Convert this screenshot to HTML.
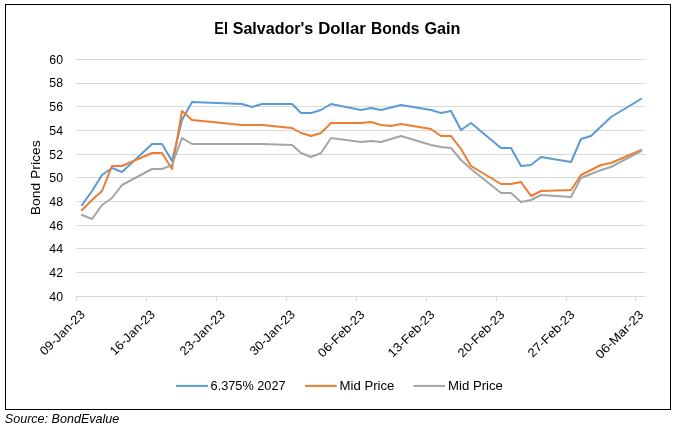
<!DOCTYPE html>
<html lang="en"><head><meta charset="utf-8"><title>El Salvador's Dollar Bonds Gain</title>
<style>html,body{margin:0;padding:0;background:#fff}body{width:676px;height:430px;overflow:hidden}svg{display:block}text{font-family:"Liberation Sans",sans-serif;fill:#000}</style></head><body>
<svg width="676" height="430" viewBox="0 0 676 430">
<rect x="0" y="0" width="676" height="430" fill="#fff"/>
<rect x="5.5" y="4.5" width="665" height="405" fill="#fff" stroke="#000" stroke-width="1"/>
<line x1="76.4" x2="645.5" y1="59.5" y2="59.5" stroke="#d9d9d9" stroke-width="1"/>
<line x1="76.4" x2="645.5" y1="83.5" y2="83.5" stroke="#d9d9d9" stroke-width="1"/>
<line x1="76.4" x2="645.5" y1="106.5" y2="106.5" stroke="#d9d9d9" stroke-width="1"/>
<line x1="76.4" x2="645.5" y1="130.5" y2="130.5" stroke="#d9d9d9" stroke-width="1"/>
<line x1="76.4" x2="645.5" y1="154.5" y2="154.5" stroke="#d9d9d9" stroke-width="1"/>
<line x1="76.4" x2="645.5" y1="177.5" y2="177.5" stroke="#d9d9d9" stroke-width="1"/>
<line x1="76.4" x2="645.5" y1="201.5" y2="201.5" stroke="#d9d9d9" stroke-width="1"/>
<line x1="76.4" x2="645.5" y1="225.5" y2="225.5" stroke="#d9d9d9" stroke-width="1"/>
<line x1="76.4" x2="645.5" y1="248.5" y2="248.5" stroke="#d9d9d9" stroke-width="1"/>
<line x1="76.4" x2="645.5" y1="272.5" y2="272.5" stroke="#d9d9d9" stroke-width="1"/>
<line x1="76.4" x2="645.5" y1="296.5" y2="296.5" stroke="#d9d9d9" stroke-width="1"/>
<line x1="76.5" x2="76.5" y1="296.0" y2="301.0" stroke="#d9d9d9" stroke-width="1"/>
<line x1="146.5" x2="146.5" y1="296.0" y2="301.0" stroke="#d9d9d9" stroke-width="1"/>
<line x1="216.5" x2="216.5" y1="296.0" y2="301.0" stroke="#d9d9d9" stroke-width="1"/>
<line x1="286.5" x2="286.5" y1="296.0" y2="301.0" stroke="#d9d9d9" stroke-width="1"/>
<line x1="356.5" x2="356.5" y1="296.0" y2="301.0" stroke="#d9d9d9" stroke-width="1"/>
<line x1="426.5" x2="426.5" y1="296.0" y2="301.0" stroke="#d9d9d9" stroke-width="1"/>
<line x1="496.5" x2="496.5" y1="296.0" y2="301.0" stroke="#d9d9d9" stroke-width="1"/>
<line x1="566.5" x2="566.5" y1="296.0" y2="301.0" stroke="#d9d9d9" stroke-width="1"/>
<line x1="635.5" x2="635.5" y1="296.0" y2="301.0" stroke="#d9d9d9" stroke-width="1"/>
<text x="63.0" y="63.7" font-size="12.4" text-anchor="end" textLength="13.7" lengthAdjust="spacingAndGlyphs">60</text>
<text x="63.0" y="87.4" font-size="12.4" text-anchor="end" textLength="13.7" lengthAdjust="spacingAndGlyphs">58</text>
<text x="63.0" y="111.1" font-size="12.4" text-anchor="end" textLength="13.7" lengthAdjust="spacingAndGlyphs">56</text>
<text x="63.0" y="134.8" font-size="12.4" text-anchor="end" textLength="13.7" lengthAdjust="spacingAndGlyphs">54</text>
<text x="63.0" y="158.5" font-size="12.4" text-anchor="end" textLength="13.7" lengthAdjust="spacingAndGlyphs">52</text>
<text x="63.0" y="182.2" font-size="12.4" text-anchor="end" textLength="13.7" lengthAdjust="spacingAndGlyphs">50</text>
<text x="63.0" y="205.9" font-size="12.4" text-anchor="end" textLength="13.7" lengthAdjust="spacingAndGlyphs">48</text>
<text x="63.0" y="229.6" font-size="12.4" text-anchor="end" textLength="13.7" lengthAdjust="spacingAndGlyphs">46</text>
<text x="63.0" y="253.3" font-size="12.4" text-anchor="end" textLength="13.7" lengthAdjust="spacingAndGlyphs">44</text>
<text x="63.0" y="277.0" font-size="12.4" text-anchor="end" textLength="13.7" lengthAdjust="spacingAndGlyphs">42</text>
<text x="63.0" y="300.7" font-size="12.4" text-anchor="end" textLength="13.7" lengthAdjust="spacingAndGlyphs">40</text>
<polyline points="82,205 92,191 102,175 112,168 122,172 152,144 162,144 172,161 182,120 192,102 242,104 252,107 262,104 292,104 301,113 311,113 321,110 331,104 361,110 371,108 381,110 401,105 431,110 441,113 451,111 461,130 471,123 501,148 511,148 521,166 531,165 541,157 571,162 581,139 591,136 611,117 641,99" fill="none" stroke="#5b9bd5" stroke-width="2" stroke-linejoin="round" stroke-linecap="square"/>
<polyline points="82,210 92,200 102,191 112,166 122,166 152,153 162,153 172,169 182,111 192,120 242,125 252,125 262,125 292,128 301,133 311,136 321,133 331,123 361,123 371,122 381,125 391,126 401,124 431,129 441,136 451,136 461,149 471,166 501,184 511,184 521,182 531,196 541,191 571,190 581,175 601,165 611,163 641,150" fill="none" stroke="#ed7d31" stroke-width="2" stroke-linejoin="round" stroke-linecap="square"/>
<polyline points="82,215 92,219 102,205 112,198 122,185 152,169 162,169 172,165 182,138 192,144 262,144 292,145 301,153 311,157 321,153 331,138 361,142 371,141 381,142 401,136 431,145 441,147 451,148 461,160 471,169 501,193 511,193 521,202 531,200 541,195 571,197 581,178 601,170 611,167 641,151" fill="none" stroke="#a5a5a5" stroke-width="2" stroke-linejoin="round" stroke-linecap="square"/>
<text x="214.34" y="34.0" font-size="15.9" font-weight="bold" textLength="13.57" lengthAdjust="spacingAndGlyphs">El</text>
<text x="232.74" y="34.0" font-size="15.9" font-weight="bold" textLength="80.52" lengthAdjust="spacingAndGlyphs">Salvador&#39;s</text>
<text x="318.22" y="34.0" font-size="15.9" font-weight="bold" textLength="47.54" lengthAdjust="spacingAndGlyphs">Dollar</text>
<text x="370.96" y="34.0" font-size="15.9" font-weight="bold" textLength="48.56" lengthAdjust="spacingAndGlyphs">Bonds</text>
<text x="424.46" y="34.0" font-size="15.9" font-weight="bold" textLength="36.09" lengthAdjust="spacingAndGlyphs">Gain</text>
<text transform="translate(40.2 177.8) rotate(-90)" font-size="12.6" text-anchor="middle" textLength="75" lengthAdjust="spacingAndGlyphs">Bond Prices</text>
<text transform="translate(85.7 315.1) rotate(-45)" font-size="12.4" text-anchor="end" textLength="58" lengthAdjust="spacingAndGlyphs">09-Jan-23</text>
<text transform="translate(155.7 315.1) rotate(-45)" font-size="12.4" text-anchor="end" textLength="58" lengthAdjust="spacingAndGlyphs">16-Jan-23</text>
<text transform="translate(225.7 315.1) rotate(-45)" font-size="12.4" text-anchor="end" textLength="58" lengthAdjust="spacingAndGlyphs">23-Jan-23</text>
<text transform="translate(295.7 315.1) rotate(-45)" font-size="12.4" text-anchor="end" textLength="58" lengthAdjust="spacingAndGlyphs">30-Jan-23</text>
<text transform="translate(365.3 315.5) rotate(-45)" font-size="12.4" text-anchor="end" textLength="60.0" lengthAdjust="spacingAndGlyphs">06-Feb-23</text>
<text transform="translate(435.3 315.5) rotate(-45)" font-size="12.4" text-anchor="end" textLength="60.0" lengthAdjust="spacingAndGlyphs">13-Feb-23</text>
<text transform="translate(505.3 315.5) rotate(-45)" font-size="12.4" text-anchor="end" textLength="60.0" lengthAdjust="spacingAndGlyphs">20-Feb-23</text>
<text transform="translate(575.3 315.5) rotate(-45)" font-size="12.4" text-anchor="end" textLength="60.0" lengthAdjust="spacingAndGlyphs">27-Feb-23</text>
<text transform="translate(644.3 315.5) rotate(-45)" font-size="12.4" text-anchor="end" textLength="62.1" lengthAdjust="spacingAndGlyphs">06-Mar-23</text>
<line x1="176.0" x2="207.9" y1="385.9" y2="385.9" stroke="#5b9bd5" stroke-width="2"/>
<text x="210.6" y="390" font-size="12.4" textLength="75" lengthAdjust="spacingAndGlyphs">6.375% 2027</text>
<line x1="305.1" x2="336.8" y1="385.9" y2="385.9" stroke="#ed7d31" stroke-width="2"/>
<text x="339.6" y="390" font-size="12.4" textLength="54.8" lengthAdjust="spacingAndGlyphs">Mid Price</text>
<line x1="413.3" x2="444.9" y1="385.9" y2="385.9" stroke="#a5a5a5" stroke-width="2"/>
<text x="448.1" y="390" font-size="12.4" textLength="54.8" lengthAdjust="spacingAndGlyphs">Mid Price</text>
<text x="4.8" y="423" font-size="13.4" font-style="italic" textLength="114.5" lengthAdjust="spacingAndGlyphs">Source: BondEvalue</text>
</svg></body></html>
